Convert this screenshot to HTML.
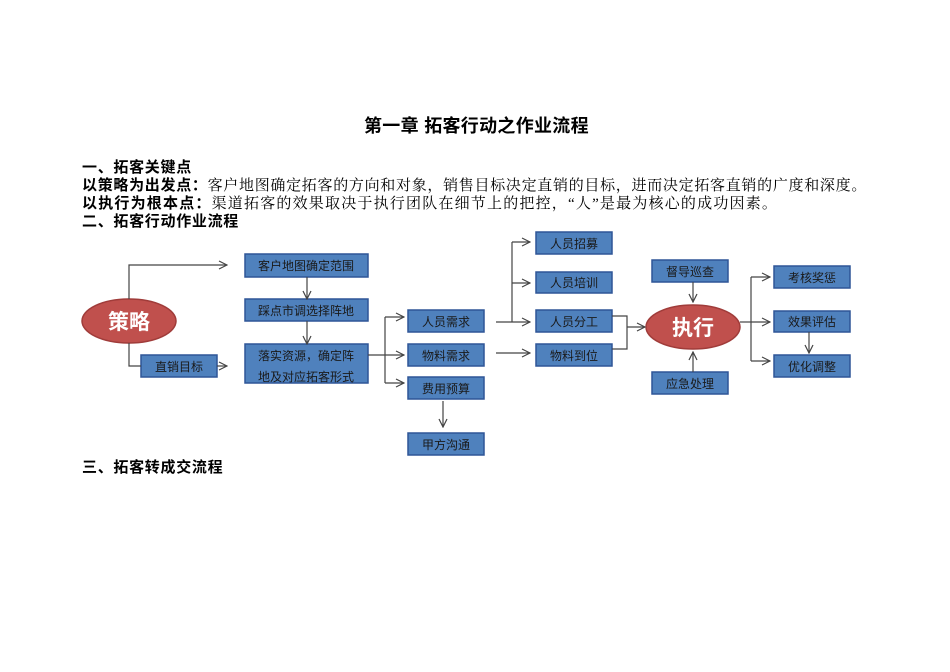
<!DOCTYPE html>
<html><head><meta charset="utf-8"><style>
body{margin:0;width:950px;height:672px;background:#fff;position:relative;overflow:hidden;font-family:"Liberation Serif","Noto Serif CJK SC",serif;}
.t{position:absolute;white-space:nowrap;font-size:15px;letter-spacing:0.7px;line-height:18px;color:#000;}
.b{font-weight:bold;font-family:"Liberation Sans","Noto Sans CJK SC",sans-serif;}
</style></head><body>
<div class="t b" style="left:364px;top:116px;font-size:18px;letter-spacing:0.3px;line-height:20px;">第一章 拓客行动之作业流程</div>
<div class="t b" style="left:82px;top:159px;">一、拓客关键点</div>
<div class="t" style="left:82px;top:177px;"><span class="b">以策略为出发点：</span>客户地图确定拓客的方向和对象，销售目标决定直销的目标，进而决定拓客直销的广度和深度。</div>
<div class="t" style="left:82px;top:195px;letter-spacing:1.2px;"><span class="b">以执行为根本点：</span>渠道拓客的效果取决于执行团队在细节上的把控，“人”是最为核心的成功因素。</div>
<div class="t b" style="left:82px;top:213px;">二、拓客行动作业流程</div>
<div class="t b" style="left:82px;top:459px;">三、拓客转成交流程</div>
<svg width="950" height="672" style="position:absolute;left:0;top:0" font-family="Liberation Sans,Noto Sans CJK SC,sans-serif">
<defs><marker id="a" markerWidth="10" markerHeight="10" refX="9" refY="5" orient="auto" markerUnits="userSpaceOnUse"><path d="M1,1 L9,5 L1,9" fill="none" stroke="#444" stroke-width="1.2"/></marker></defs>
<g fill="#4f81bd" stroke="#2f5597" stroke-width="1.5">
<rect x="245" y="254" width="123" height="23"/>
<rect x="245" y="299" width="123" height="22"/>
<rect x="245" y="344" width="123" height="39"/>
<rect x="141" y="355" width="76" height="22"/>
<rect x="408" y="310" width="76" height="22"/>
<rect x="408" y="344" width="76" height="22"/>
<rect x="408" y="377" width="76" height="22"/>
<rect x="408" y="433" width="76" height="22"/>
<rect x="536" y="232" width="76" height="22"/>
<rect x="536" y="272" width="76" height="21"/>
<rect x="536" y="310" width="76" height="22"/>
<rect x="536" y="344" width="76" height="22"/>
<rect x="652" y="260" width="76" height="22"/>
<rect x="652" y="372" width="76" height="22"/>
<rect x="774" y="266" width="76" height="22"/>
<rect x="774" y="311" width="76" height="21"/>
<rect x="774" y="355" width="76" height="22"/>
</g>
<g fill="#c0504d" stroke="#a03c3a" stroke-width="1.5">
<ellipse cx="129" cy="321" rx="47" ry="22"/>
<ellipse cx="693" cy="327" rx="47" ry="22"/>
</g>
<g fill="none" stroke="#444" stroke-width="1.2">
<path d="M129,299 V265 H227" marker-end="url(#a)"/>
<path d="M129,343 V366 H141"/>
<path d="M217,366 H227" marker-end="url(#a)"/>
<path d="M307,277 V299" marker-end="url(#a)"/>
<path d="M307,321 V344" marker-end="url(#a)"/>
<path d="M368,355 H385"/>
<path d="M385,317 V383"/>
<path d="M385,317 H404" marker-end="url(#a)"/>
<path d="M385,355 H404" marker-end="url(#a)"/>
<path d="M385,383 H404" marker-end="url(#a)"/>
<path d="M443,401 V427" marker-end="url(#a)"/>
<path d="M496,322 H530" marker-end="url(#a)"/>
<path d="M512,242 V322"/>
<path d="M512,242 H530" marker-end="url(#a)"/>
<path d="M512,283 H530" marker-end="url(#a)"/>
<path d="M496,353 H530" marker-end="url(#a)"/>
<path d="M612,316 H627 V349 H612"/>
<path d="M627,327 H645" marker-end="url(#a)"/>
<path d="M693,282 V302" marker-end="url(#a)"/>
<path d="M693,372 V352" marker-end="url(#a)"/>
<path d="M740,322 H751"/>
<path d="M751,277 V361"/>
<path d="M751,277 H770" marker-end="url(#a)"/>
<path d="M751,322 H770" marker-end="url(#a)"/>
<path d="M751,361 H770" marker-end="url(#a)"/>
<path d="M809,332 V353" marker-end="url(#a)"/>
</g>
<g fill="#1a1a1a" font-size="12" text-anchor="middle">
<text x="306" y="270">客户地图确定范围</text>
<text x="306" y="315">踩点市调选择阵地</text>
<text x="306" y="360">落实资源，确定阵</text>
<text x="306" y="381">地及对应拓客形式</text>
<text x="179" y="371">直销目标</text>
<text x="446" y="326">人员需求</text>
<text x="446" y="360">物料需求</text>
<text x="446" y="393">费用预算</text>
<text x="446" y="449">甲方沟通</text>
<text x="574" y="248">人员招募</text>
<text x="574" y="287">人员培训</text>
<text x="574" y="326">人员分工</text>
<text x="574" y="360">物料到位</text>
<text x="690" y="276">督导巡查</text>
<text x="690" y="388">应急处理</text>
<text x="812" y="282">考核奖惩</text>
<text x="812" y="326">效果评估</text>
<text x="812" y="371">优化调整</text>
</g>
<g fill="#fff" font-size="21" font-weight="bold" text-anchor="middle">
<text x="129" y="329">策略</text>
<text x="693" y="335">执行</text>
</g>
</svg>
</body></html>
